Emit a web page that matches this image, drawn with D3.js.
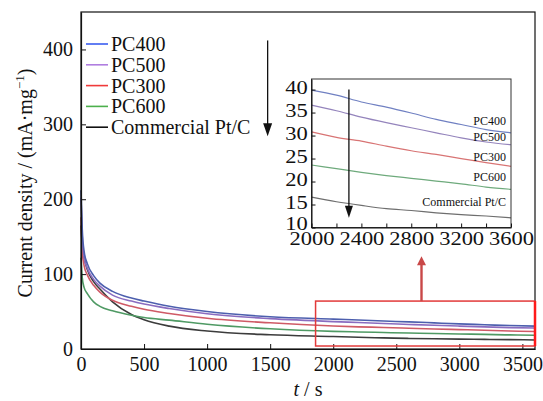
<!DOCTYPE html>
<html>
<head>
<meta charset="utf-8">
<script src="https://cdn.jsdelivr.net/npm/d3@7"></script>
<style>
    body { margin: 0; background: #fff; }
    text { font-family: "Liberation Serif", "Times New Roman", serif; fill: #111; }
    .axis path, .axis line { stroke: #111; }
</style>
</head>
<body>
<div id="chart"></div>
<script>
// time points (s)
var times = [0, 10, 25, 50, 100, 150, 250, 400, 500, 700, 1000, 1500,
             2000, 2200, 2400, 2600, 2800, 3000, 3200, 3400, 3600];

var pc400 = [212, 160, 130, 114, 98, 88, 77, 68, 64, 57, 50, 43,
             39.9, 38.8, 37.3, 36.2, 34.9, 33.5, 32.4, 31.3, 30.6];
var pc500 = [202, 150, 122, 108, 93, 84, 72, 64, 60, 54, 47, 40.5,
             36.6, 35.4, 34.0, 32.8, 31.7, 30.6, 29.5, 28.6, 28.0];
var pc300 = [176, 130, 111, 99, 85, 76, 65, 57, 53, 47.5, 41, 35,
             30.8, 29.6, 28.8, 27.7, 26.7, 25.9, 25.0, 24.1, 23.3];
var pc600 = [122, 95, 82, 74, 63, 57, 51, 45, 42, 38.5, 33, 27,
             23.6, 22.8, 22.0, 21.3, 20.7, 20.1, 19.5, 18.8, 18.3];
var commercial = [165, 140, 122, 106, 90, 80, 63, 46, 39, 30.5, 24, 19,
                  16.6, 15.6, 14.8, 14.1, 13.7, 13.2, 12.8, 12.5, 12.1];

var names = ["PC400", "PC500", "PC300", "PC600", "Commercial Pt/C"];
var seriesValues = [pc400, pc500, pc300, pc600, commercial];

var xTicks = [0, 500, 1000, 1500, 2000, 2500, 3000, 3500];
var yTicks = [0, 100, 200, 300, 400];
var insetXTicks = [2000, 2200, 2400, 2600, 2800, 3000, 3200, 3400, 3600];
var insetYTicks = [10, 15, 20, 25, 30, 35, 40];
// inset label heights, in inset units
var insetLabelY = [32.4, 28.8, 24.5, 20.2, 14.7];

var lineColors = ["#4d5fae", "#8a6cc0", "#cf5a66", "#4f9a64", "#3c3c3c"];
var insetColors = ["#7080c2", "#9484bc", "#d87474", "#6eaa7c", "#6e6e6e"];
var legendColors = ["#3a5ef0", "#b07ee0", "#f03a3a", "#4cb04c", "#111111"];

var serif = '"Liberation Serif", "Times New Roman", serif';

var W = 543, H = 401;
var margins = {top: 12, right: 8, bottom: 52, left: 81},
    width = W - margins.left - margins.right,
    height = H - margins.top - margins.bottom;

var series = names.map(function(n, i) {
    return {name: n, values: times.map(function(t, j) { return {t: t, v: seriesValues[i][j]}; })};
});

var svg = d3.select("#chart").append("svg")
    .attr("width", W)
    .attr("height", H);

var x = d3.scaleLinear().domain([0, 3600]).range([0, width]);
var y = d3.scaleLinear().domain([0, 450]).range([height, 0]);

var g = svg.append("g")
    .attr("transform", "translate(" + margins.left + "," + margins.top + ")");

var line = d3.line()
    .x(function(d) { return x(d.t); })
    .y(function(d) { return y(d.v); })
    .curve(d3.curveMonotoneX);

// curves (drawn back to front)
g.selectAll(".curve").data(series.slice().reverse()).enter()
    .append("path")
    .attr("class", "curve")
    .attr("fill", "none")
    .attr("stroke", function(d) { return lineColors[names.indexOf(d.name)]; })
    .attr("stroke-width", 1.6)
    .attr("d", function(d) { return line(d.values); });

// frame
g.append("rect")
    .attr("width", width).attr("height", height)
    .attr("fill", "none").attr("stroke", "#111").attr("stroke-width", 1.2);

var xAxis = d3.axisBottom(x).tickValues(xTicks).tickFormat(d3.format("d"))
    .tickSizeInner(-5).tickSizeOuter(0).tickPadding(8);
var yAxis = d3.axisLeft(y).tickValues(yTicks).tickFormat(d3.format("d"))
    .tickSizeInner(-5).tickSizeOuter(0).tickPadding(8);

g.append("g").attr("class", "axis")
    .attr("transform", "translate(0," + height + ")")
    .call(xAxis)
    .attr("font-family", serif).attr("font-size", 20)
    .selectAll("text").attr("fill", "#111");

g.append("g").attr("class", "axis")
    .call(yAxis)
    .attr("font-family", serif).attr("font-size", 20)
    .selectAll("text").attr("fill", "#111");

g.selectAll(".axis path").attr("stroke-width", 1.2);

// axis titles
var ylab = svg.append("text")
    .attr("transform", "translate(32,183) rotate(-90)")
    .attr("text-anchor", "middle")
    .style("font-size", "20px");
ylab.append("tspan").text("Current density / (mA\u00b7mg");
ylab.append("tspan").attr("dy", -8).style("font-size", "13px").text("\u22121");
ylab.append("tspan").attr("dy", 8).text(")");

var xlab = svg.append("text")
    .attr("x", margins.left + width / 2)
    .attr("y", 396)
    .attr("text-anchor", "middle")
    .style("font-size", "20px");
xlab.append("tspan").style("font-style", "italic").text("t");
xlab.append("tspan").text(" / s");

// legend
var legend = svg.append("g").attr("transform", "translate(86,44)");
names.forEach(function(n, i) {
    var row = legend.append("g").attr("transform", "translate(0," + (i * 20.8) + ")");
    row.append("line").attr("x1", 0).attr("x2", 22)
        .attr("stroke", legendColors[i]).attr("stroke-width", 1.6);
    row.append("text").attr("x", 25).attr("dy", "0.35em")
        .style("font-size", "20px").text(n);
});

function arrowDown(parent, ax, ay1, ay2, color, sw, hw, hl) {
    parent.append("line")
        .attr("x1", ax).attr("x2", ax).attr("y1", ay1).attr("y2", ay2 - hl + 1)
        .attr("stroke", color).attr("stroke-width", sw);
    parent.append("path")
        .attr("d", "M" + (ax - hw / 2) + "," + (ay2 - hl) + "L" + (ax + hw / 2) + "," + (ay2 - hl) +
              "L" + ax + "," + ay2 + "Z")
        .attr("fill", color);
}

function arrowUp(parent, ax, ay1, ay2, color, sw, hw, hl) {
    parent.append("line")
        .attr("x1", ax).attr("x2", ax).attr("y1", ay1).attr("y2", ay2 + hl - 1)
        .attr("stroke", color).attr("stroke-width", sw);
    parent.append("path")
        .attr("d", "M" + (ax - hw / 2) + "," + (ay2 + hl) + "L" + (ax + hw / 2) + "," + (ay2 + hl) +
              "L" + ax + "," + ay2 + "Z")
        .attr("fill", color);
}

// black arrow next to legend
arrowDown(g, x(1480), y(412), y(284), "#111", 1.3, 9, 13);

// red zoom box and arrow
g.append("rect")
    .attr("x", x(1860)).attr("y", y(64))
    .attr("width", x(3600) - x(1860)).attr("height", y(4) - y(64))
    .attr("fill", "none").attr("stroke", "#e23a3a").attr("stroke-width", 1.5);
g.append("line")
    .attr("x1", x(3600)).attr("x2", x(3600)).attr("y1", y(64)).attr("y2", y(4))
    .attr("stroke", "#ff1a1a").attr("stroke-width", 2.5);
arrowUp(g, x(2700), y(64), y(124), "#c94848", 2.4, 9, 9);

// inset
var inset = {left: 311.5, top: 79, width: 199.5, height: 148.5};
var ix = d3.scaleLinear().domain([2000, 3600]).range([0, inset.width]);
var iy = d3.scaleLinear().domain([10, 42.3]).range([inset.height, 0]);

var ig = svg.append("g")
    .attr("transform", "translate(" + inset.left + "," + inset.top + ")");

ig.append("rect")
    .attr("width", inset.width).attr("height", inset.height)
    .attr("fill", "#fff");

var iline = d3.line()
    .x(function(d) { return ix(d.t); })
    .y(function(d) { return iy(d.v); })
    .curve(d3.curveMonotoneX);

ig.selectAll(".icurve").data(series).enter()
    .append("path")
    .attr("class", "icurve")
    .attr("fill", "none")
    .attr("stroke", function(d, i) { return insetColors[i]; })
    .attr("stroke-width", 1.2)
    .attr("d", function(d) { return iline(d.values.filter(function(p) { return p.t >= 2000; })); });

ig.selectAll(".ilabel").data(names).enter()
    .append("text")
    .attr("class", "ilabel")
    .attr("x", ix(3560))
    .attr("y", function(d, i) { return iy(insetLabelY[i]); })
    .attr("text-anchor", "end")
    .style("font-size", "12px")
    .text(function(d) { return d; });

arrowDown(ig, ix(2300), iy(40), iy(12.1), "#111", 1.3, 8, 12);

ig.append("rect")
    .attr("width", inset.width).attr("height", inset.height)
    .attr("fill", "none").attr("stroke", "#333").attr("stroke-width", 1);

var ixAxis = d3.axisBottom(ix).tickValues(insetXTicks)
    .tickFormat(function(d) { return d % 400 === 0 ? d : ""; })
    .tickSizeInner(-4).tickSizeOuter(0).tickPadding(5);
var iyAxis = d3.axisLeft(iy).tickValues(insetYTicks)
    .tickSizeInner(-4).tickSizeOuter(0).tickPadding(3);

ig.append("g").attr("class", "axis")
    .attr("transform", "translate(0," + inset.height + ")")
    .call(ixAxis)
    .attr("font-family", serif).attr("font-size", 18)
    .selectAll("text").attr("fill", "#111")
    .attr("transform", "scale(1.25,1)");

ig.append("g").attr("class", "axis")
    .call(iyAxis)
    .attr("font-family", serif).attr("font-size", 18)
    .selectAll("text").attr("fill", "#111")
    .attr("transform", function(d) { return d === 10 ? "translate(0,-4) scale(1.25,1)" : "translate(0,-2) scale(1.25,1)"; });

ig.selectAll(".axis path").attr("stroke", "#333");
</script>
</body>
</html>
